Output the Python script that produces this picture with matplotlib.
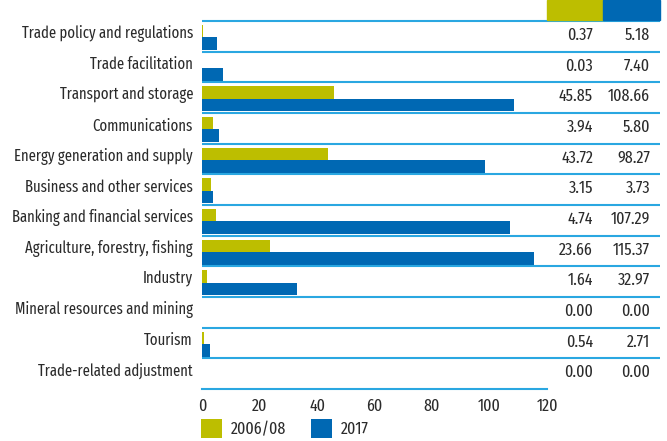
import matplotlib
matplotlib.use("Agg")
import matplotlib.pyplot as plt
from matplotlib.patches import Rectangle
import matplotlib.transforms as mtransforms

categories = ["Trade policy and regulations", "Trade facilitation", "Transport and storage",
              "Communications", "Energy generation and supply", "Business and other services",
              "Banking and financial services", "Agriculture, forestry, fishing", "Industry",
              "Mineral resources and mining", "Tourism", "Trade-related adjustment"]
v2006 = [0.37, 0.03, 45.85, 3.94, 43.72, 3.15, 4.74, 23.66, 1.64, 0.00, 0.54, 0.00]
v2017 = [5.18, 7.40, 108.66, 5.80, 98.27, 3.73, 107.29, 115.37, 32.97, 0.00, 2.71, 0.00]
xticks = [0, 20, 40, 60, 80, 100, 120]
series_labels = ["2006/08", "2017"]

OLIVE = "#BDBE00"
BLUE = "#0068B3"
LINE = "#2AA7E1"
TXT = "#2b2b2b"
FONT = ["Fira Sans Extra Condensed", "DejaVu Sans"]
plt.rcParams["font.family"] = FONT
plt.rcParams["font.weight"] = "normal"
FS = 11.5
FSN = 12.5

W, H = 667, 441
fig = plt.figure(figsize=(W / 100, H / 100), dpi=100)
x0, x1, ytop, ybot = 202, 547, 21, 389
ax = fig.add_axes([x0 / W, 1 - ybot / H, (x1 - x0) / W, (ybot - ytop) / H])

n = len(categories)
ys = list(range(n))
bh = 0.41
ax.barh([y - 0.17 for y in ys], v2006, height=bh, color=OLIVE, label=series_labels[0])
ax.barh([y + 0.24 for y in ys], v2017, height=bh, color=BLUE, label=series_labels[1])
ax.set_ylim(n - 0.5, -0.5)
ax.set_xlim(0, 120)
ax.set_xticks(xticks)
ax.set_xticklabels([str(t) for t in xticks], fontsize=FSN, color=TXT)
ax.tick_params(axis="x", length=0, pad=7)
ax.set_yticks([])
for s in ["top", "right", "left"]:
    ax.spines[s].set_visible(False)
ax.spines["bottom"].set_color(LINE)
ax.spines["bottom"].set_linewidth(1.5)

trans = mtransforms.blended_transform_factory(ax.transAxes, ax.transData)
ext = (660 - x0) / (x1 - x0)
for i in range(n):
    ax.plot([0, ext], [i - 0.5, i - 0.5], transform=trans,
            color=LINE, lw=1.5, clip_on=False, solid_capstyle="butt")

c1 = (593 - x0) / (x1 - x0)
c2 = (650 - x0) / (x1 - x0)
lab = (193 - x0) / (x1 - x0)
for i, (cat, a, b) in enumerate(zip(categories, v2006, v2017)):
    ax.text(lab, i - 0.08, cat, transform=trans, ha="right", va="center", fontsize=FS, color=TXT)
    ax.text(c1, i - 0.03, f"{a:.2f}", transform=trans, ha="right", va="center", fontsize=FSN, color=TXT)
    ax.text(c2, i - 0.03, f"{b:.2f}", transform=trans, ha="right", va="center", fontsize=FSN, color=TXT)

fig.patches.append(Rectangle((547 / W, 1 - 20 / H), 56 / W, 20 / H, transform=fig.transFigure, color=OLIVE))
fig.patches.append(Rectangle((603 / W, 1 - 20 / H), 57 / W, 20 / H, transform=fig.transFigure, color=BLUE))

leg = fig.legend(loc="lower left", bbox_to_anchor=(192 / W, -0.012), ncol=2, frameon=False,
                 fontsize=FSN, handlelength=1.25, handleheight=1.25, handletextpad=0.5,
                 columnspacing=1.4, borderaxespad=0.1)
for t in leg.get_texts():
    t.set_color(TXT)

fig.savefig("out.png", dpi=100)
